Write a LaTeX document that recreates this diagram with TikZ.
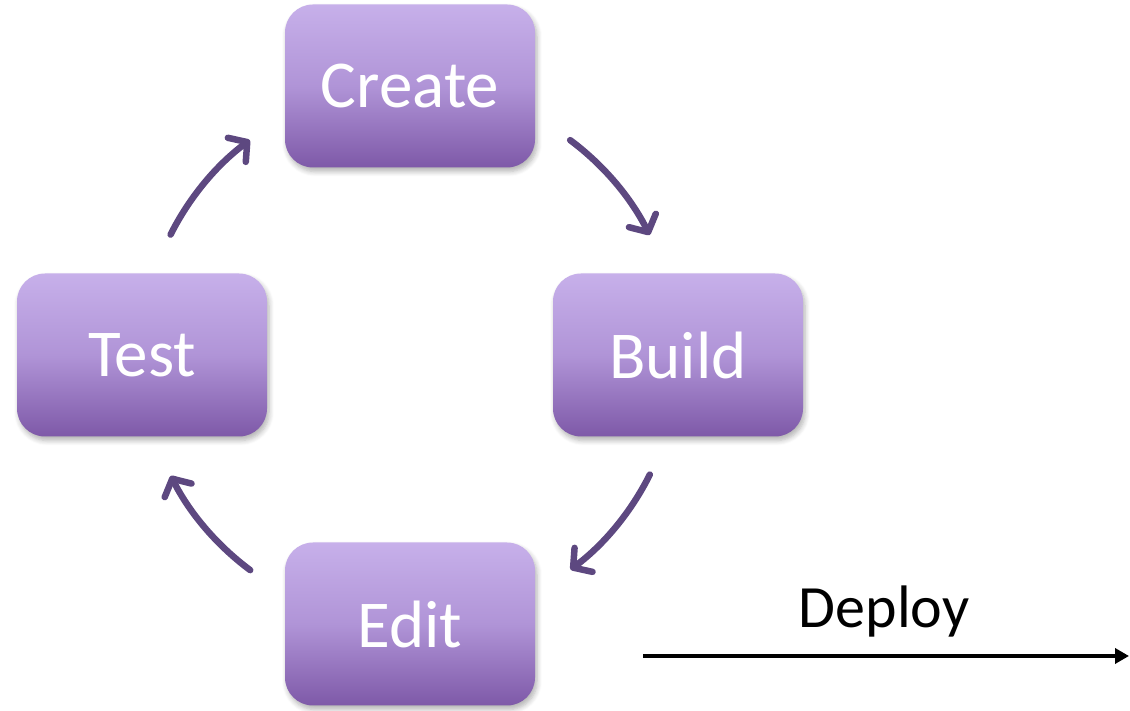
\documentclass[tikz,border=0pt]{standalone}
\usepackage{fontspec}
\setmainfont{Carlito}
\usetikzlibrary{arrows.meta,shadows.blur}
\definecolor{boxtop}{HTML}{C7B0EA}
\definecolor{boxmid}{HTML}{B094D7}
\definecolor{boxbot}{HTML}{7E59A8}
\definecolor{arrowcol}{HTML}{5D4880}
\tikzset{
  stagebox/.style={rounded corners=28pt, minimum width=250pt, minimum height=163pt,
    top color=boxtop, bottom color=boxbot, middle color=boxmid,
    text=white, font=\fontsize{67}{67}\selectfont, inner sep=0pt,
    blur shadow={shadow xshift=2pt, shadow yshift=-4pt, shadow blur steps=6, shadow blur radius=5pt, shadow opacity=30}},
  cyc/.style={draw=arrowcol, line width=6.5pt, line cap=round,
    -{Straight Barb[length=13pt,width=30pt,line cap=round,line join=round]}},
  deployarrow/.style={draw=black, line width=4.5pt, -{Triangle[length=14pt,width=15pt]}}
}
\begin{document}
\begin{tikzpicture}[x=1pt,y=1pt]
\useasboundingbox (0,0) rectangle (1130,711);
\node[stagebox] (create) at (410,625) {Create};
\node[stagebox] (build) at (678,356) {Build};
\node[stagebox] (test) at (142,356) {Test};
\node[stagebox] (edit) at (410,87) {Edit};
\coordinate (ctr) at (410,356);
\draw[cyc] (ctr) ++(53.3:268) arc[start angle=53.3, end angle=26.6, radius=268];
\draw[cyc] (ctr) ++(-26.5:268) arc[start angle=-26.5, end angle=-53.2, radius=268];
\draw[cyc] (ctr) ++(-126.6:268) arc[start angle=-126.6, end angle=-153.2, radius=268];
\draw[cyc] (ctr) ++(153.3:268) arc[start angle=153.3, end angle=126.7, radius=268];
\coordinate (dstart) at (643,55);
\coordinate (dend) at (1129,55);
\draw[deployarrow] (dstart) -- (dend);
\node[anchor=base, font=\fontsize{60}{60}\selectfont, inner sep=0pt] (deploy) at (884,83) {Deploy};
\end{tikzpicture}
\end{document}
